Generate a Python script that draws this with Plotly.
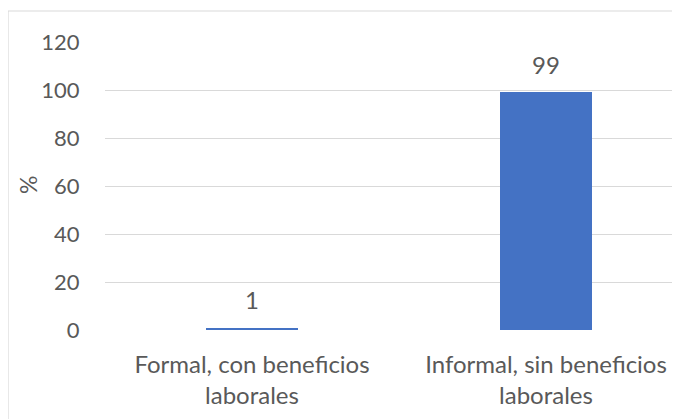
import plotly.graph_objects as go

categories = ["Formal, con beneficios<br>laborales", "Informal, sin beneficios<br>laborales"]
values = [1, 99]
y_ticks = [0, 20, 40, 60, 80, 100, 120]
y_title = "%"

FONT = "Lato"
GREY = "#595959"

fig = go.Figure(go.Bar(
    x=categories, y=values,
    marker=dict(color="#4472C4", line=dict(width=0)),
    width=0.313,
    hoverinfo="x+y",
))

for c, v in zip(categories, values):
    fig.add_annotation(x=c, y=v, text=str(v), showarrow=False,
                       yanchor="middle", yshift=28,
                       font=dict(family=FONT, size=24, color=GREY))

fig.update_layout(
    width=680, height=419,
    margin=dict(l=97, r=8, t=34, b=97),
    paper_bgcolor="white", plot_bgcolor="white",
    showlegend=False,
    bargap=0,
    font=dict(family=FONT, color=GREY, size=22),
)
fig.update_xaxes(
    type="category",
    range=[-0.5, 1.4558],
    showgrid=False, zeroline=False, showline=False,
    ticks="outside", ticklen=13, tickcolor="rgba(0,0,0,0)",
    tickfont=dict(family=FONT, size=24, color=GREY),
)
fig.update_yaxes(
    range=[0, 120],
    tickvals=y_ticks,
    showgrid=True, gridcolor="#d9d9d9", gridwidth=1,
    zeroline=False, showline=False,
    ticks="outside", ticklen=20, tickcolor="rgba(0,0,0,0)",
    tickfont=dict(family=FONT, size=22, color=GREY),
)

# y axis title placed as rotated text
fig.add_annotation(xref="paper", yref="paper", x=-0.1339, y=0.5035,
                   text=y_title, textangle=-90, showarrow=False,
                   xanchor="center", yanchor="middle",
                   font=dict(family=FONT, size=23, color=GREY))

# chart area border (cropped on right/bottom)
fig.add_shape(type="line", xref="paper", yref="paper",
              x0=-0.1687, x1=1.05, y0=1.1076, y1=1.1076,
              line=dict(color="#d9d9d9", width=1.2))
fig.add_shape(type="line", xref="paper", yref="paper",
              x0=-0.1687, x1=-0.1687, y0=1.1076, y1=-0.4,
              line=dict(color="#d9d9d9", width=1.2))

fig.write_html("out.html")
